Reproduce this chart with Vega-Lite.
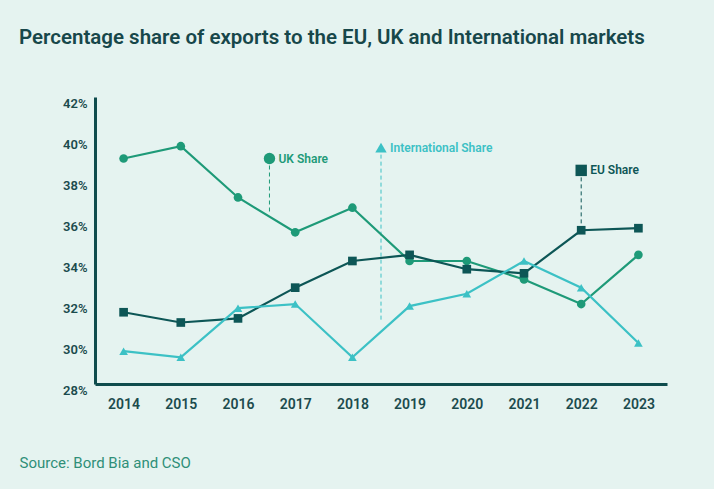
{
  "$schema": "https://vega.github.io/schema/vega-lite/v6.json",
  "autosize": "none",
  "width": 572,
  "height": 287,
  "padding": {"left": 95, "top": 97, "right": 47, "bottom": 105},
  "background": "#e5f3f0",
  "config": {
    "view": {"stroke": null},
    "font": "Roboto"
  },
  "title": {
    "text": "Percentage share of exports to the EU, UK and International markets",
    "anchor": "start",
    "frame": "group",
    "dx": -76,
    "offset": 49,
    "fontSize": 20.5,
    "fontWeight": 600,
    "font": "Roboto",
    "color": "#17474a"
  },
  "datasets": {
    "series": [
      {"year": 2014, "series": "UK", "value": 39.0},
      {"year": 2015, "series": "UK", "value": 39.6},
      {"year": 2016, "series": "UK", "value": 37.1},
      {"year": 2017, "series": "UK", "value": 35.4},
      {"year": 2018, "series": "UK", "value": 36.6},
      {"year": 2019, "series": "UK", "value": 34.0},
      {"year": 2020, "series": "UK", "value": 34.0},
      {"year": 2021, "series": "UK", "value": 33.1},
      {"year": 2022, "series": "UK", "value": 31.9},
      {"year": 2023, "series": "UK", "value": 34.3},
      {"year": 2014, "series": "EU", "value": 31.5},
      {"year": 2015, "series": "EU", "value": 31.0},
      {"year": 2016, "series": "EU", "value": 31.2},
      {"year": 2017, "series": "EU", "value": 32.7},
      {"year": 2018, "series": "EU", "value": 34.0},
      {"year": 2019, "series": "EU", "value": 34.3},
      {"year": 2020, "series": "EU", "value": 33.6},
      {"year": 2021, "series": "EU", "value": 33.4},
      {"year": 2022, "series": "EU", "value": 35.5},
      {"year": 2023, "series": "EU", "value": 35.6},
      {"year": 2014, "series": "International", "value": 29.6},
      {"year": 2015, "series": "International", "value": 29.3},
      {"year": 2016, "series": "International", "value": 31.7},
      {"year": 2017, "series": "International", "value": 31.9},
      {"year": 2018, "series": "International", "value": 29.3},
      {"year": 2019, "series": "International", "value": 31.8},
      {"year": 2020, "series": "International", "value": 32.4},
      {"year": 2021, "series": "International", "value": 34.0},
      {"year": 2022, "series": "International", "value": 32.7},
      {"year": 2023, "series": "International", "value": 30.0}
    ],
    "notes": [
      {"series": "UK", "x": 2016.55, "y": 39.0, "y2": 36.35, "label": "UK Share"},
      {"series": "International", "x": 2018.5, "y": 39.53, "y2": 31.0, "label": "International Share"},
      {"series": "EU", "x": 2022.0, "y": 38.42, "y2": 35.6, "label": "EU Share"}
    ]
  },
  "layer": [
    {
      "data": {"name": "notes"},
      "mark": {"type": "rule", "strokeDash": [4, 3], "strokeWidth": 1},
      "encoding": {
        "x": {"field": "x", "type": "quantitative"},
        "y": {"field": "y", "type": "quantitative"},
        "y2": {"field": "y2"},
        "color": {"field": "series", "type": "nominal", "legend": null}
      }
    },
    {
      "data": {"name": "series"},
      "mark": {"type": "line", "strokeWidth": 2.2},
      "encoding": {
        "x": {
          "field": "year", "type": "quantitative",
          "scale": {"domain": [2013.5, 2023.5], "nice": false, "zero": false},
          "axis": {
            "values": [2014, 2015, 2016, 2017, 2018, 2019, 2020, 2021, 2022, 2023],
            "format": "d",
            "ticks": false,
            "grid": false,
            "domainColor": "#0f4c4d",
            "domainWidth": 3,
            "labelFont": "Roboto",
            "labelFontSize": 14,
            "labelFontWeight": 600,
            "labelColor": "#1b4b4d",
            "labelPadding": 13,
            "labelFlush": false,
            "title": "Source: Bord Bia and CSO",
            "titleAnchor": "start",
            "titleAlign": "left",
            "titleX": -76,
            "titleY": 71,
            "titleFont": "Roboto",
            "titleFontSize": 15,
            "titleFontWeight": "normal",
            "titleColor": "#2f8f78"
          }
        },
        "y": {
          "field": "value", "type": "quantitative",
          "scale": {"domain": [28, 42], "nice": false, "zero": false},
          "axis": {
            "values": [28, 30, 32, 34, 36, 38, 40, 42],
            "labelExpr": "datum.value + '%'",
            "ticks": false,
            "grid": false,
            "domainColor": "#0f4c4d",
            "domainWidth": 3,
            "labelFont": "Roboto",
            "labelFontSize": 13,
            "labelFontWeight": 600,
            "labelColor": "#1b4b4d",
            "labelPadding": 8,
            "labelOffset": 6,
            "labelFlush": false,
            "title": null
          }
        },
        "color": {
          "field": "series", "type": "nominal",
          "scale": {"domain": ["UK", "International", "EU"], "range": ["#1e9a78", "#3cc1c5", "#0d5656"]},
          "legend": null
        }
      }
    },
    {
      "data": {"name": "series"},
      "mark": {"type": "point", "filled": true, "opacity": 1, "size": 75},
      "encoding": {
        "x": {"field": "year", "type": "quantitative"},
        "y": {"field": "value", "type": "quantitative"},
        "color": {"field": "series", "type": "nominal", "legend": null},
        "shape": {
          "field": "series", "type": "nominal",
          "scale": {"domain": ["UK", "International", "EU"], "range": ["circle", "triangle-up", "square"]},
          "legend": null
        }
      }
    },
    {
      "data": {"name": "notes"},
      "mark": {"type": "point", "filled": true, "opacity": 1, "size": 130},
      "encoding": {
        "x": {"field": "x", "type": "quantitative"},
        "y": {"field": "y", "type": "quantitative"},
        "color": {"field": "series", "type": "nominal", "legend": null},
        "shape": {"field": "series", "type": "nominal", "legend": null}
      }
    },
    {
      "data": {"name": "notes"},
      "mark": {"type": "text", "align": "left", "baseline": "middle", "dx": 9, "fontSize": 12, "fontWeight": 600, "font": "Roboto"},
      "encoding": {
        "x": {"field": "x", "type": "quantitative"},
        "y": {"field": "y", "type": "quantitative"},
        "text": {"field": "label"},
        "color": {"field": "series", "type": "nominal", "legend": null}
      }
    }
  ]
}
